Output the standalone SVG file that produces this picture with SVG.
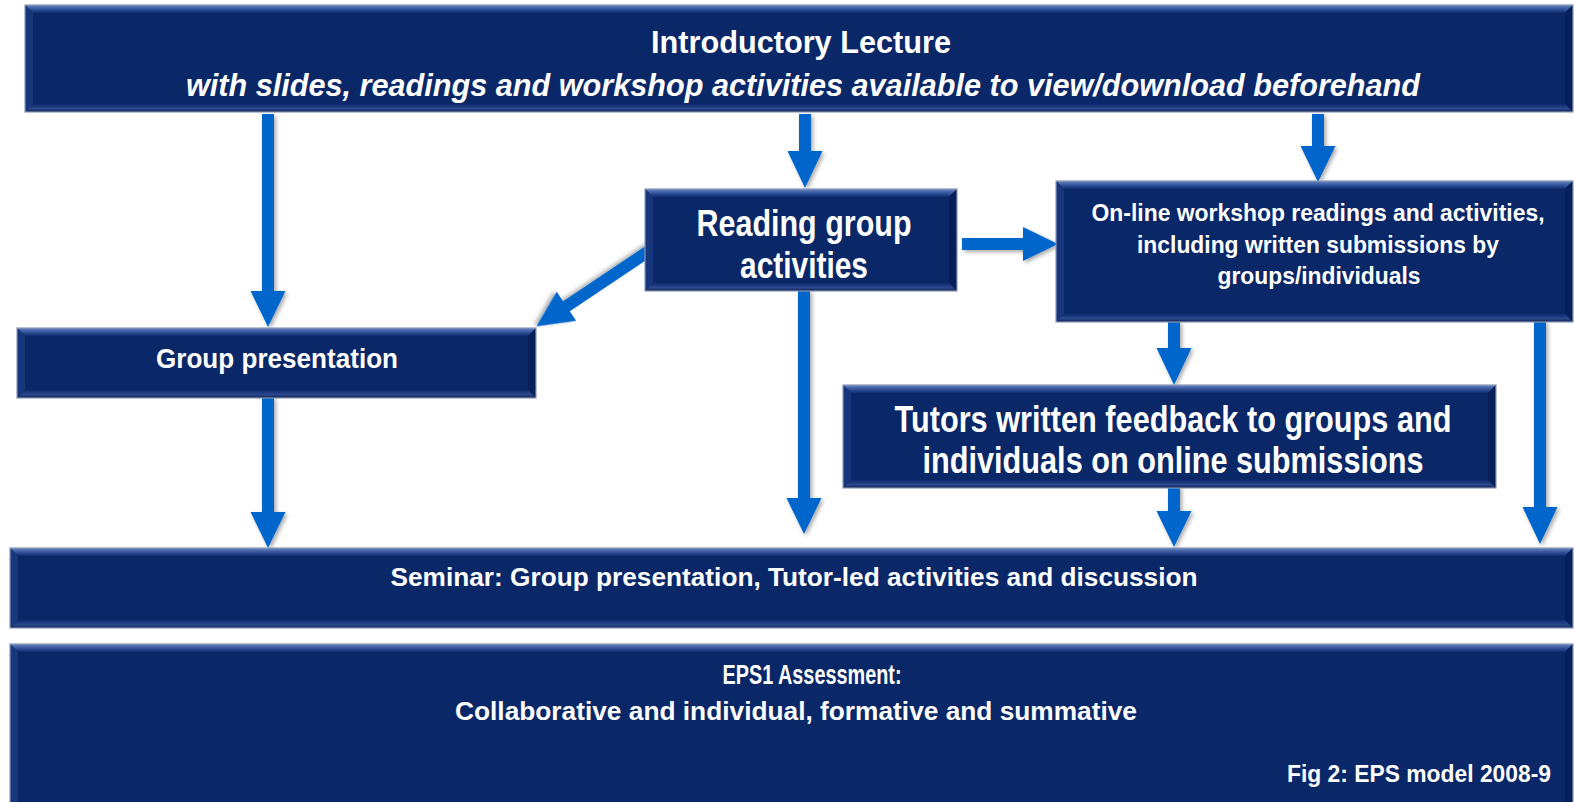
<svg xmlns="http://www.w3.org/2000/svg" width="1574" height="802" viewBox="0 0 1574 802">
  <style>
    .txt { font-family: "Liberation Sans Narrow", "Liberation Sans", Arial, sans-serif; font-weight: bold; fill: #ffffff; text-anchor: middle; }
    .it { font-style: italic; }
    .body { fill: #0a2768; }
    .edge { fill: none; stroke: #8a98b8; stroke-width: 1.2; }
    .bevTop { fill: url(#gTop); }
    .bevBot { fill: url(#gBot); }
    .bevL { fill: #17367c; }
    .bevR { fill: #08205a; }
    .arrow { fill: #0566cc; filter: url(#sh); }
  </style>
  <defs>
    <linearGradient id="gTop" x1="0" y1="0" x2="0" y2="1">
      <stop offset="0" stop-color="#6a86c2"/>
      <stop offset="0.45" stop-color="#3a5aa0"/>
      <stop offset="1" stop-color="#0e2b6e"/>
    </linearGradient>
    <linearGradient id="gBot" x1="0" y1="0" x2="0" y2="1">
      <stop offset="0" stop-color="#0c2a6c"/>
      <stop offset="0.6" stop-color="#2c4a8e"/>
      <stop offset="1" stop-color="#0a1c48"/>
    </linearGradient>
    <filter id="sh" x="-20%" y="-20%" width="140%" height="140%">
      <feGaussianBlur in="SourceAlpha" stdDeviation="2"/>
      <feOffset dx="2" dy="2" result="b"/>
      <feComponentTransfer><feFuncA type="linear" slope="0.35"/></feComponentTransfer>
      <feMerge><feMergeNode/><feMergeNode in="SourceGraphic"/></feMerge>
    </filter>
  </defs>

  <rect width="1574" height="802" fill="#ffffff"/>

  <!-- connectors (drawn under the boxes so the tails tuck in) -->
  <g id="connectors">
    <!-- lecture -> group presentation -->
    <path class="arrow" d="M262,114 H274 V291 H285.5 L268,327 L250.5,291 H262 Z"/>
    <!-- lecture -> reading group -->
    <path class="arrow" d="M799,114 H811 V151 H822.5 L805,188 L787.5,151 H799 Z"/>
    <!-- lecture -> online workshop -->
    <path class="arrow" d="M1312,114 H1324 V146 H1335.5 L1318,182 L1300.5,146 H1312 Z"/>
    <!-- reading group -> group presentation -->
    <path class="arrow" transform="translate(652,249) rotate(146.2)" d="M0,-6 H103 V-17.5 L139,0 L103,17.5 V6 H0 Z"/>
    <!-- reading group -> online workshop -->
    <path class="arrow" d="M962,238 H1023 V227 L1058,244 L1023,261 V250 H962 Z"/>
    <!-- online workshop -> tutors feedback -->
    <path class="arrow" d="M1168,321 H1180 V348 H1191.5 L1174,385 L1156.5,348 H1168 Z"/>
    <!-- online workshop -> seminar -->
    <path class="arrow" d="M1534,321 H1546 V507 H1557.5 L1540,544 L1522.5,507 H1534 Z"/>
    <!-- group presentation -> seminar -->
    <path class="arrow" d="M262,396 H274 V512 H285.5 L268,548 L250.5,512 H262 Z"/>
    <!-- reading group -> seminar -->
    <path class="arrow" d="M798,290 H810 V498 H821.5 L804,534 L786.5,498 H798 Z"/>
    <!-- tutors feedback -> seminar -->
    <path class="arrow" d="M1168,486 H1180 V511 H1191.5 L1174,547 L1156.5,511 H1168 Z"/>
  </g>

  <!-- Introductory lecture -->
  <g id="lecture">
    <rect class="body" x="25" y="5" width="1548" height="107"/>
    <polygon class="bevTop" points="25,5 1573,5 1565,13 33,13"/>
    <polygon class="bevL" points="25,5 33,13 33,104 25,112"/>
    <polygon class="bevR" points="1573,5 1565,13 1565,104 1573,112"/>
    <polygon class="bevBot" points="25,112 1573,112 1565,104 33,104"/>
    <rect class="edge" x="25" y="5" width="1548" height="107"/>
    <text class="txt" x="801" y="53" font-size="30.7" textLength="300" lengthAdjust="spacingAndGlyphs">Introductory Lecture</text>
    <text class="txt it" x="803" y="96" font-size="32" textLength="1234" lengthAdjust="spacingAndGlyphs">with slides, readings and workshop activities available to view/download beforehand</text>
  </g>

  <!-- Reading group activities -->
  <g id="reading">
    <rect class="body" x="645" y="189" width="312" height="102"/>
    <polygon class="bevTop" points="645,189 957,189 949,197 653,197"/>
    <polygon class="bevL" points="645,189 653,197 653,283 645,291"/>
    <polygon class="bevR" points="957,189 949,197 949,283 957,291"/>
    <polygon class="bevBot" points="645,291 957,291 949,283 653,283"/>
    <rect class="edge" x="645" y="189" width="312" height="102"/>
    <text class="txt" x="804" y="236" font-size="37" textLength="215" lengthAdjust="spacingAndGlyphs">Reading group</text>
    <text class="txt" x="804" y="278" font-size="37" textLength="128" lengthAdjust="spacingAndGlyphs">activities</text>
  </g>

  <!-- On-line workshop -->
  <g id="online">
    <rect class="body" x="1056" y="181" width="517" height="141"/>
    <polygon class="bevTop" points="1056,181 1573,181 1565,189 1064,189"/>
    <polygon class="bevL" points="1056,181 1064,189 1064,314 1056,322"/>
    <polygon class="bevR" points="1573,181 1565,189 1565,314 1573,322"/>
    <polygon class="bevBot" points="1056,322 1573,322 1565,314 1064,314"/>
    <rect class="edge" x="1056" y="181" width="517" height="141"/>
    <text class="txt" x="1318" y="221" font-size="23.5" textLength="453" lengthAdjust="spacingAndGlyphs">On-line workshop readings and activities,</text>
    <text class="txt" x="1318" y="253" font-size="24" textLength="362" lengthAdjust="spacingAndGlyphs">including written submissions by</text>
    <text class="txt" x="1319" y="284" font-size="24" textLength="203" lengthAdjust="spacingAndGlyphs">groups/individuals</text>
  </g>

  <!-- Group presentation -->
  <g id="grouppres">
    <rect class="body" x="17" y="328" width="519" height="70"/>
    <polygon class="bevTop" points="17,328 536,328 528,336 25,336"/>
    <polygon class="bevL" points="17,328 25,336 25,390 17,398"/>
    <polygon class="bevR" points="536,328 528,336 528,390 536,398"/>
    <polygon class="bevBot" points="17,398 536,398 528,390 25,390"/>
    <rect class="edge" x="17" y="328" width="519" height="70"/>
    <text class="txt" x="277" y="368" font-size="28.5" textLength="242" lengthAdjust="spacingAndGlyphs">Group presentation</text>
  </g>

  <!-- Tutors written feedback -->
  <g id="feedback">
    <rect class="body" x="843" y="385" width="653" height="103"/>
    <polygon class="bevTop" points="843,385 1496,385 1488,393 851,393"/>
    <polygon class="bevL" points="843,385 851,393 851,480 843,488"/>
    <polygon class="bevR" points="1496,385 1488,393 1488,480 1496,488"/>
    <polygon class="bevBot" points="843,488 1496,488 1488,480 851,480"/>
    <rect class="edge" x="843" y="385" width="653" height="103"/>
    <text class="txt" x="1173" y="432" font-size="37" textLength="557" lengthAdjust="spacingAndGlyphs">Tutors written feedback to groups and</text>
    <text class="txt" x="1173" y="473" font-size="37" textLength="501" lengthAdjust="spacingAndGlyphs">individuals on online submissions</text>
  </g>

  <!-- Seminar -->
  <g id="seminar">
    <rect class="body" x="10" y="548" width="1563" height="80"/>
    <polygon class="bevTop" points="10,548 1573,548 1565,556 18,556"/>
    <polygon class="bevL" points="10,548 18,556 18,620 10,628"/>
    <polygon class="bevR" points="1573,548 1565,556 1565,620 1573,628"/>
    <polygon class="bevBot" points="10,628 1573,628 1565,620 18,620"/>
    <rect class="edge" x="10" y="548" width="1563" height="80"/>
    <text class="txt" x="794" y="586" font-size="25.5" textLength="807" lengthAdjust="spacingAndGlyphs">Seminar: Group presentation, Tutor-led activities and discussion</text>
  </g>

  <!-- EPS1 Assessment -->
  <g id="assessment">
    <rect class="body" x="10" y="644" width="1563" height="158"/>
    <polygon class="bevTop" points="10,644 1573,644 1565,652 18,652"/>
    <polygon class="bevL" points="10,644 18,652 18,802 10,802"/>
    <polygon class="bevR" points="1573,644 1565,652 1565,802 1573,802"/>
    <rect class="edge" x="10" y="644" width="1563" height="170"/>
    <text class="txt" x="812" y="684" font-size="27" textLength="179" lengthAdjust="spacingAndGlyphs">EPS1 Assessment:</text>
    <text class="txt" x="796" y="720" font-size="26.3" textLength="682" lengthAdjust="spacingAndGlyphs">Collaborative and individual, formative and summative</text>
    <text class="txt" x="1419" y="782" font-size="24" textLength="264" lengthAdjust="spacingAndGlyphs">Fig 2: EPS model 2008-9</text>
  </g>
</svg>
